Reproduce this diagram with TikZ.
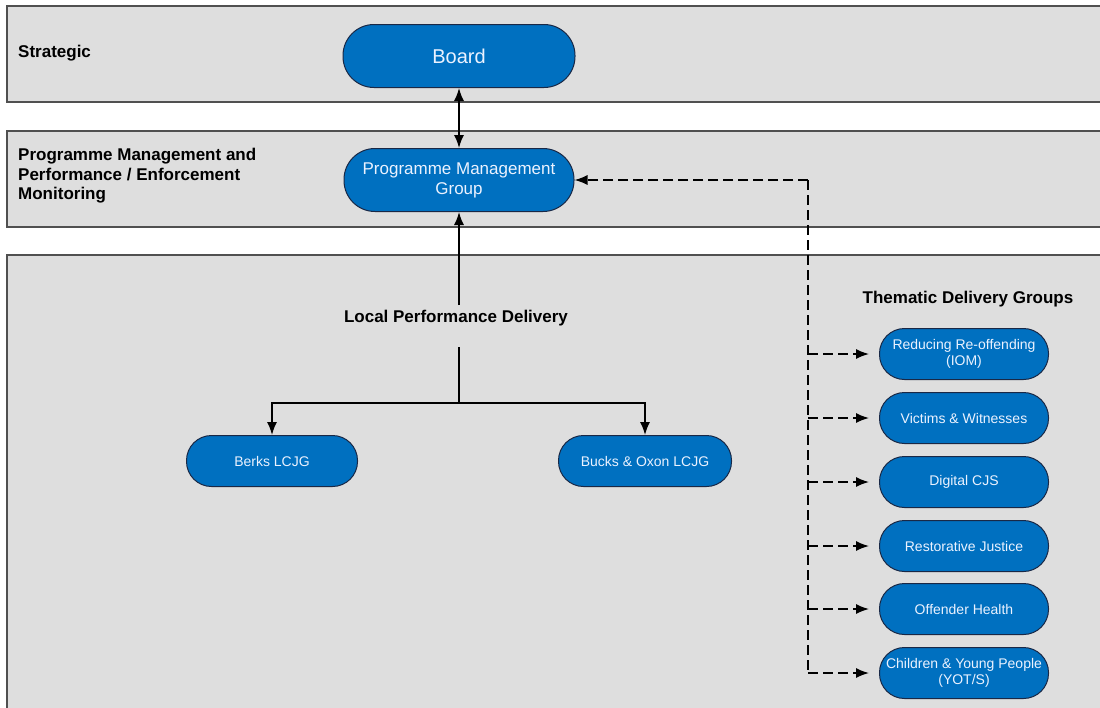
\documentclass[tikz,border=0pt]{standalone}
\usepackage{fontspec}
\setmainfont{Liberation Sans}
\usetikzlibrary{arrows.meta}
\definecolor{bandgray}{RGB}{222,222,222}
\definecolor{bandedge}{RGB}{80,80,80}
\definecolor{nodeblue}{RGB}{0,112,192}
\definecolor{nodeedge}{RGB}{25,40,70}
\definecolor{nodetext}{RGB}{235,242,255}
\begin{document}
\begin{tikzpicture}[x=1pt,y=-1pt,
  band/.style={draw=bandedge, fill=bandgray, line width=1.2pt},
  pill/.style={draw=nodeedge, fill=nodeblue, line width=1pt, text=nodetext,
    align=center, inner sep=0pt, font=\fontsize{14}{16}\selectfont,
    minimum height=51pt, rounded corners=25pt},
  lbl/.style={font=\bfseries\fontsize{17}{19.5}\selectfont, align=left, inner sep=0pt},
  tip/.style={-{Latex[length=13pt,width=10pt]}},
  conn/.style={line width=1.5pt, tip},
  biconn/.style={line width=1.5pt, {Latex[length=13pt,width=10pt]}-{Latex[length=13pt,width=10pt]}},
  dline/.style={line width=1.5pt, dash pattern=on 10pt off 5pt},
  dconn/.style={dline, tip, shorten >=10pt}
]
\useasboundingbox (0,0) rectangle (1100,707);
\clip (0,0) rectangle (1100,707);
\fill[white] (0,0) rectangle (1100,707);

% bands
\draw[band] (7,6) rectangle (1115,102);
\draw[band] (7,131) rectangle (1115,227);
\draw[band] (7,255) rectangle (1115,725);

% band labels
\node[lbl, anchor=west] (lstrat) at (18,53) {Strategic};
\node[lbl, anchor=west] (lprog) at (18,176) {Programme Management and\\Performance / Enforcement\\Monitoring};
\node[lbl] (llocal) at (456,318) {Local Performance Delivery};
\node[lbl] (ltheme) at (968,299) {Thematic Delivery Groups};

% main nodes
\node[pill, minimum width=232pt, minimum height=63pt, rounded corners=31pt,
      font=\fontsize{20}{23}\selectfont] (board) at (459,56) {Board};
\node[pill, minimum width=230pt, minimum height=63pt, rounded corners=31pt,
      font=\fontsize{17}{20}\selectfont] (pmg) at (459,180) {Programme Management\\Group};
\node[pill, minimum width=171pt] (berks) at (272,461) {Berks LCJG};
\node[pill, minimum width=173pt] (bucks) at (645,461) {Bucks \& Oxon LCJG};

% thematic nodes
\node[pill, minimum width=169pt] (t1) at (964,354) {Reducing Re-offending\\(IOM)};
\node[pill, minimum width=169pt] (t2) at (964,418) {Victims \& Witnesses};
\node[pill, minimum width=169pt] (t3) at (964,482) {Digital CJS};
\node[pill, minimum width=169pt] (t4) at (964,546) {Restorative Justice};
\node[pill, minimum width=169pt] (t5) at (964,609) {Offender Health};
\node[pill, minimum width=169pt] (t6) at (964,673) {Children \& Young People\\(YOT/S)};

% solid connectors
\draw[biconn] (board) -- (pmg);
\coordinate (split) at (459,403);
\coordinate (gapbot) at (459,347);
\coordinate (gaptop) at (459,305);
\draw[line width=1.5pt] (split) -- (gapbot);
\draw[conn] (gaptop) -- (pmg.south);
\draw[conn] (split) -| (berks.north);
\draw[conn] (split) -| (bucks.north);

% dashed connectors
\coordinate (dtop) at (808,180);
\coordinate (dbot) at (808,673);
\draw[dline] (dtop) -- (dbot);
\draw[dline, tip] (dtop) -- (pmg.east);
\foreach \t in {t1,t2,t3,t4,t5,t6}
  \draw[dconn] (\t.west -| dtop) -- (\t.west);
\end{tikzpicture}
\end{document}
